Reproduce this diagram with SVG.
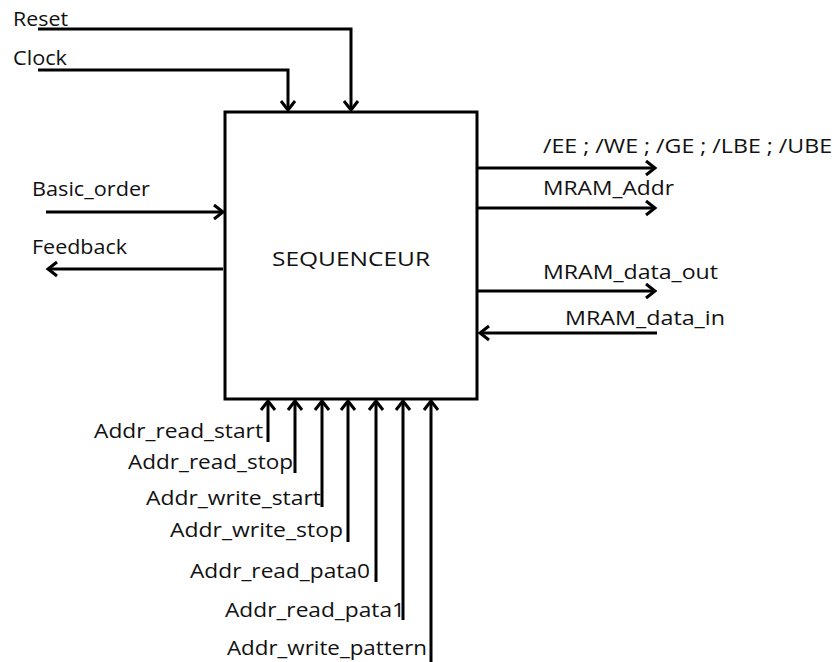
<svg xmlns="http://www.w3.org/2000/svg" width="835" height="662" viewBox="0 0 835 662">
<style>
text{font-family:"Open Sans","Liberation Sans",sans-serif;font-size:20px;fill:#111}
.w{stroke:#000;stroke-width:3;fill:none;marker-end:url(#a)}
</style>
<defs>
<marker id="a" markerUnits="userSpaceOnUse" markerWidth="20" markerHeight="20" refX="0" refY="0" viewBox="-12 -10 14 20" orient="auto" overflow="visible">
<path d="M-9,-7 L0,0 L-9,7" fill="none" stroke="#000" stroke-width="3"/>
</marker>
</defs>
<rect width="835" height="662" fill="#fff"/>
<g id="sequenceur">
<rect x="225" y="112" width="252" height="287" fill="#fff" stroke="#000" stroke-width="3"/>
<text x="272" y="266" font-size="23" textLength="158" lengthAdjust="spacingAndGlyphs">SEQUENCEUR</text>
</g>
<g id="labels">
<text x="13" y="26" textLength="55" lengthAdjust="spacingAndGlyphs">Reset</text>
<text x="13" y="65" textLength="54" lengthAdjust="spacingAndGlyphs">Clock</text>
<text x="32" y="196" textLength="118" lengthAdjust="spacingAndGlyphs">Basic_order</text>
<text x="32" y="254" textLength="95" lengthAdjust="spacingAndGlyphs">Feedback</text>
<text x="543" y="153" textLength="289" lengthAdjust="spacingAndGlyphs">/EE ; /WE ; /GE ; /LBE ; /UBE</text>
<text x="543" y="195" textLength="131" lengthAdjust="spacingAndGlyphs">MRAM_Addr</text>
<text x="543" y="279" textLength="175" lengthAdjust="spacingAndGlyphs">MRAM_data_out</text>
<text x="565" y="325" textLength="160" lengthAdjust="spacingAndGlyphs">MRAM_data_in</text>
<text x="94" y="438" textLength="169" lengthAdjust="spacingAndGlyphs">Addr_read_start</text>
<text x="128" y="469" textLength="165" lengthAdjust="spacingAndGlyphs">Addr_read_stop</text>
<text x="146" y="505" textLength="175" lengthAdjust="spacingAndGlyphs">Addr_write_start</text>
<text x="170" y="537" textLength="173" lengthAdjust="spacingAndGlyphs">Addr_write_stop</text>
<text x="190" y="578" textLength="180" lengthAdjust="spacingAndGlyphs">Addr_read_pata0</text>
<text x="225" y="617" textLength="180" lengthAdjust="spacingAndGlyphs">Addr_read_pata1</text>
<text x="227" y="655" textLength="200" lengthAdjust="spacingAndGlyphs">Addr_write_pattern</text>
</g>
<g id="connectors">
<path class="w" d="M38,29 H351 V110"/>
<path class="w" d="M38,70 H288 V110"/>
<path class="w" d="M46,212 H223"/>
<path class="w" d="M223,269 H48"/>
<path class="w" d="M478,168 H655"/>
<path class="w" d="M478,208 H655"/>
<path class="w" d="M478,291 H655"/>
<path class="w" d="M657,333 H480"/>
<path class="w" d="M268,442 V401"/>
<path class="w" d="M295,473 V401"/>
<path class="w" d="M322,507 V401"/>
<path class="w" d="M348,542 V401"/>
<path class="w" d="M376,582 V401"/>
<path class="w" d="M403,620 V401"/>
<path class="w" d="M431,662 V401"/>
</g>
</svg>
